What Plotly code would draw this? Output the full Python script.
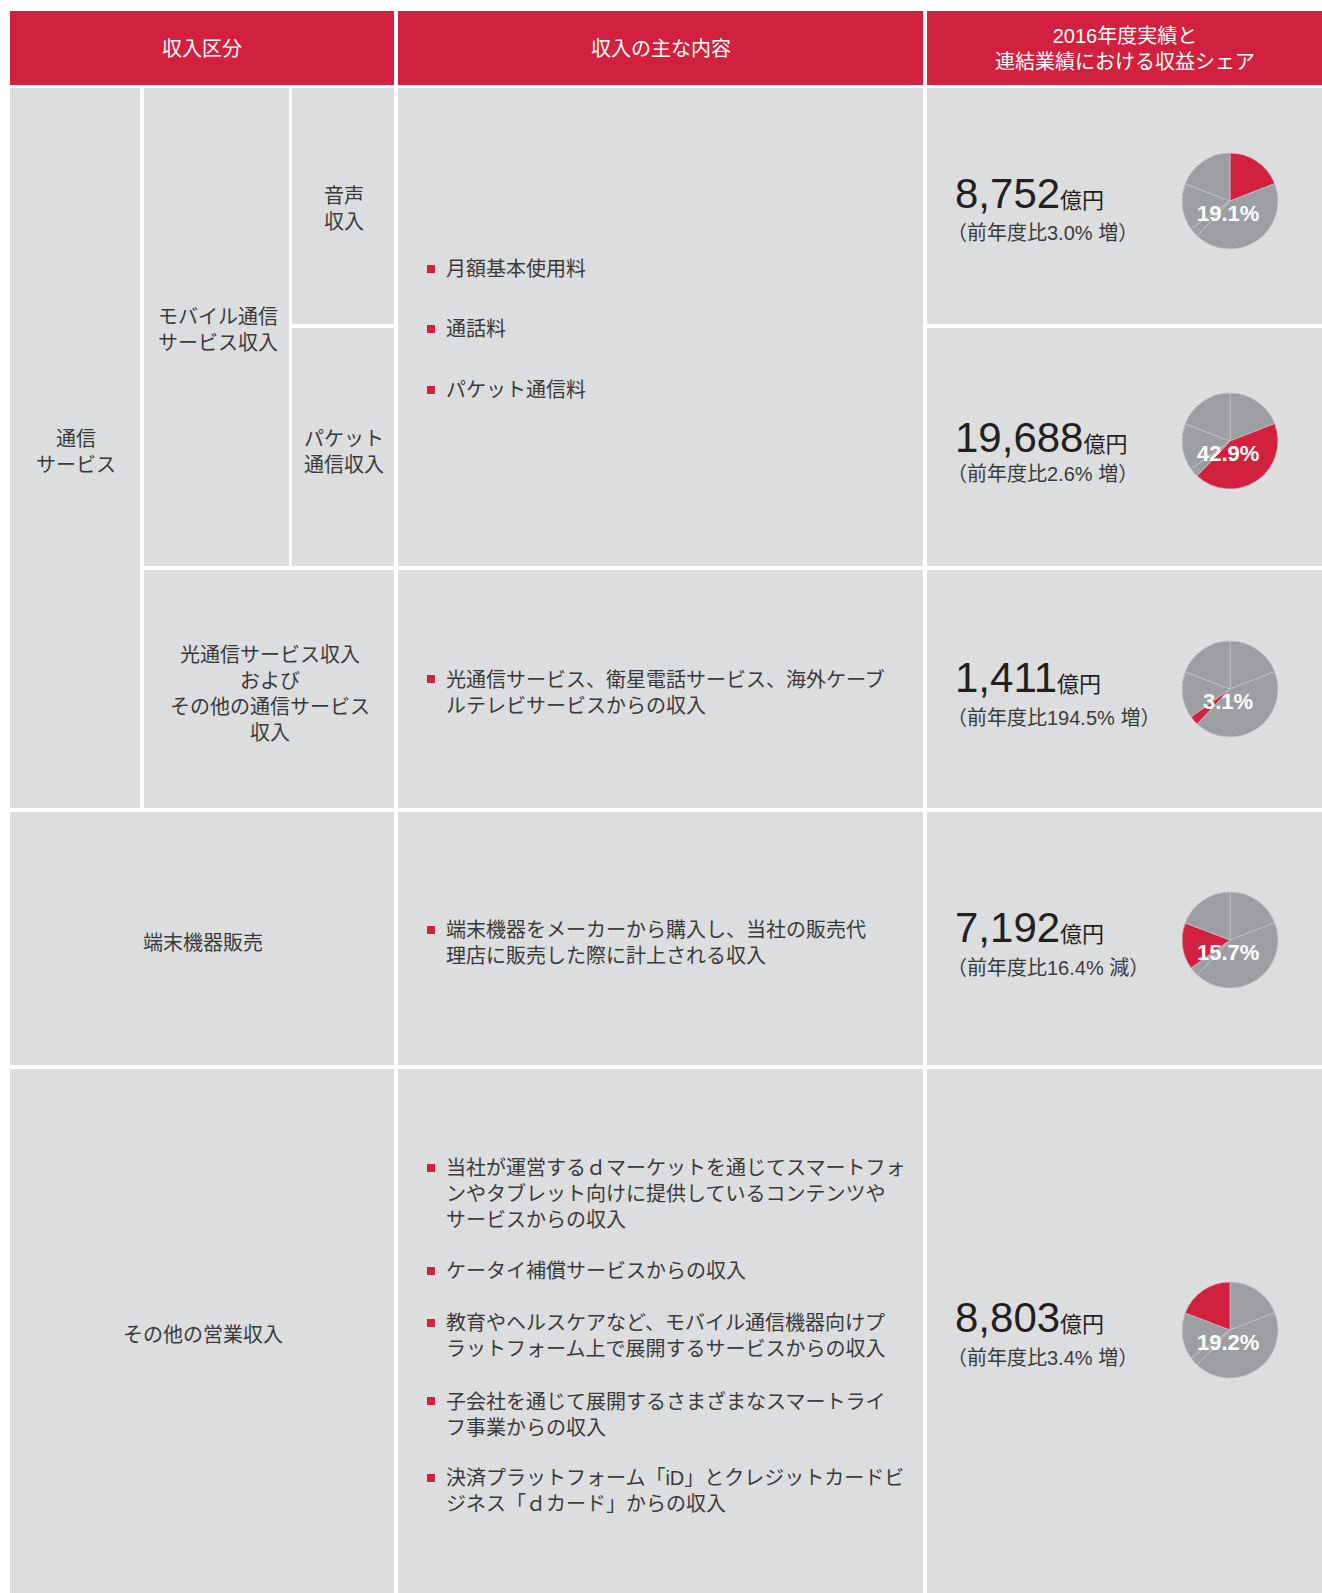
import plotly.graph_objects as go

W, H = 1322, 1593

# ---------------- data ----------------
header_labels = ["収入区分", "収入の主な内容", "2016年度実績と<br>連結業績における収益シェア"]
segments = ["音声収入", "パケット通信収入", "光通信サービス収入およびその他の通信サービス収入",
            "端末機器販売", "その他の営業収入"]
revenue_oku = [8752, 19688, 1411, 7192, 8803]
yoy_pct = [3.0, 2.6, 194.5, 16.4, 3.4]
yoy_dir = ["増", "増", "増", "減", "増"]
share_pct = [19.1, 42.9, 3.1, 15.7, 19.2]

category_labels = ["通信<br>サービス", "モバイル通信<br>サービス収入", "音声<br>収入", "パケット<br>通信収入",
                   "光通信サービス収入<br>および<br>その他の通信サービス<br>収入", "端末機器販売", "その他の営業収入"]

content_bullets = [
    ["月額基本使用料", "通話料", "パケット通信料"],
    ["光通信サービス、衛星電話サービス、海外ケーブ<br>ルテレビサービスからの収入"],
    ["端末機器をメーカーから購入し、当社の販売代<br>理店に販売した際に計上される収入"],
    ["当社が運営するｄマーケットを通じてスマートフォ<br>ンやタブレット向けに提供しているコンテンツや<br>サービスからの収入",
     "ケータイ補償サービスからの収入",
     "教育やヘルスケアなど、モバイル通信機器向けプ<br>ラットフォーム上で展開するサービスからの収入",
     "子会社を通じて展開するさまざまなスマートライ<br>フ事業からの収入",
     "決済プラットフォーム「iD」とクレジットカードビ<br>ジネス「ｄカード」からの収入"],
]

# ---------------- style ----------------
RED = "#D2203F"
CELL = "#DCDDDF"
PIEGRAY = "#9D9EA2"
SEP = "#C4C5C8"
TXT = "#3A3A3A"
NUM = "#231F20"
FONT = "Liberation Sans, Noto Sans CJK JP, sans-serif"

fig = go.Figure()
shapes = []
annos = []


def rect(x0, y0, x1, y1, color):
    shapes.append(dict(type="rect", xref="x", yref="y", x0=x0, y0=y0, x1=x1, y1=y1,
                       fillcolor=color, line=dict(width=0), layer="below"))


# header
hdr_cols = [(10, 394), (398, 923), (927, 1322)]
for (x0, x1), lab in zip(hdr_cols, header_labels):
    rect(x0, 11, x1, 85, RED)
    annos.append(dict(x=(x0 + x1) / 2, y=49, text=lab, showarrow=False, xref="x", yref="y",
                      xanchor="center", yanchor="middle",
                      font=dict(family=FONT, size=20, color="white")))

# body cells: left column
left_cells = [
    (10, 88, 140, 808, category_labels[0], 452),
    (144, 88, 289, 566, category_labels[1], 330),
    (292, 88, 394, 324, category_labels[2], 209),
    (292, 328, 394, 566, category_labels[3], 452),
    (144, 570, 394, 808, category_labels[4], 694),
    (10, 812, 394, 1065, category_labels[5], 943),
    (10, 1069, 394, 1593, category_labels[6], 1335),
]
for x0, y0, x1, y1, lab, yc in left_cells:
    rect(x0, y0, x1, y1, CELL)
    annos.append(dict(x=(x0 + x1) / 2 + 1, y=yc, text=lab, showarrow=False, xref="x", yref="y",
                      xanchor="center", yanchor="middle",
                      font=dict(family=FONT, size=20, color=TXT)))

# middle column
mid_cells = [(88, 566), (570, 808), (812, 1065), (1069, 1593)]
bullet_centers = [[270, 330, 391], [680], [931], [1169, 1272, 1324, 1402, 1479]]
for (y0, y1), items, centers in zip(mid_cells, content_bullets, bullet_centers):
    rect(398, y0, 923, y1, CELL)
    for txt, yc in zip(items, centers):
        shapes.append(dict(type="rect", xref="x", yref="y", x0=427, x1=435, y0=yc - 5, y1=yc + 3,
                           fillcolor=RED, line=dict(width=0)))
        annos.append(dict(x=444, y=yc - 14, text=txt, showarrow=False, xref="x", yref="y",
                          xanchor="left", yanchor="top", align="left",
                          font=dict(family=FONT, size=20, color=TXT)))

# right column
right_cells = [(88, 324), (328, 566), (570, 808), (812, 1065), (1069, 1593)]
pie_cy = [201, 441, 689, 940, 1330]
num_cy = [193, 437, 677, 927, 1317]
sub_cy = [233, 474, 718, 968, 1358]
PCX, R = 1230, 48
for i, (y0, y1) in enumerate(right_cells):
    rect(927, y0, 1322, y1, CELL)
    colors = [RED if j == i else PIEGRAY for j in range(len(share_pct))]
    cy = pie_cy[i]
    fig.add_trace(go.Pie(
        values=share_pct, labels=segments, sort=False, direction="clockwise", rotation=0,
        textinfo="none", hoverinfo="label+percent", showlegend=False,
        marker=dict(colors=colors, line=dict(color=SEP, width=0.7)),
        domain=dict(x=[(PCX - R) / W, (PCX + R) / W], y=[1 - (cy + R) / H, 1 - (cy - R) / H]),
    ))
    annos.append(dict(x=PCX - 2, y=cy + 12, text=f"<b>{share_pct[i]:.1f}%</b>", showarrow=False,
                      xref="x", yref="y", xanchor="center", yanchor="middle",
                      font=dict(family="Liberation Sans, Arial, sans-serif", size=22, color="white")))
    annos.append(dict(x=953, y=num_cy[i], text=f"{revenue_oku[i]:,}<span style='font-size:22px'>億円</span>",
                      showarrow=False, xref="x", yref="y", xanchor="left", yanchor="middle",
                      font=dict(family=FONT, size=42, color=NUM)))
    annos.append(dict(x=945, y=sub_cy[i], text=f"（前年度比{yoy_pct[i]:.1f}% {yoy_dir[i]}）",
                      showarrow=False, xref="x", yref="y", xanchor="left", yanchor="middle",
                      font=dict(family=FONT, size=20, color=TXT)))

fig.update_layout(
    width=W, height=H, autosize=False,
    margin=dict(l=0, r=0, t=0, b=0, pad=0),
    paper_bgcolor="white", plot_bgcolor="white",
    xaxis=dict(range=[0, W], visible=False, fixedrange=True),
    yaxis=dict(range=[H, 0], visible=False, fixedrange=True),
    shapes=shapes, annotations=annos,
)

fig.write_html("out.html", config={"displayModeBar": False},
               post_script="document.body.style.margin='0px';")
